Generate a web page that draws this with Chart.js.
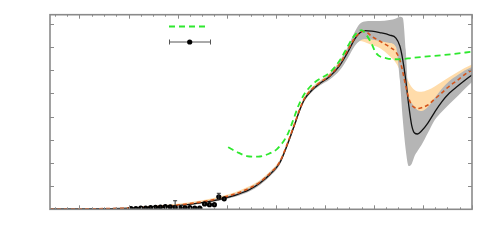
<!DOCTYPE html>
<html>
<head>
<meta charset="utf-8">
<script src="https://cdn.jsdelivr.net/npm/chart.js@4"></script>
<style>
html,body{margin:0;padding:0;background:#fff;}
#wrap{width:500px;height:245px;}
</style>
</head>
<body>
<div id="wrap"><canvas id="c" width="500" height="245"></canvas></div>
<script>
// ---- data ----
const xGrid = [0.40,1.01,1.63,2.03,2.44,2.85,3.25,3.56,3.86,4.17,4.47,4.68,4.88,5.08,5.25,5.39,5.49,5.59,5.74,5.90,6.10,6.31,6.47,6.61,6.71,6.81,6.96,7.12,7.32,7.45,7.53,7.59,7.65,7.71,7.77,7.83,7.89,7.97,8.10,8.24,8.38,8.54,8.71,8.85,9.00];
const blackCurve = [0.013,0.017,0.030,0.047,0.082,0.134,0.216,0.306,0.431,0.603,0.853,1.134,1.500,1.996,2.858,3.677,4.280,4.754,5.142,5.422,5.724,6.220,6.780,7.341,7.599,7.707,7.685,7.621,7.513,7.384,7.039,6.435,5.573,4.496,3.634,3.289,3.246,3.375,3.720,4.194,4.625,5.013,5.315,5.552,5.789];
const grayUpper = [0.013,0.022,0.039,0.060,0.099,0.159,0.250,0.349,0.487,0.668,0.927,1.220,1.586,2.082,2.944,3.763,4.366,4.841,5.228,5.509,5.832,6.392,6.996,7.642,7.987,8.095,8.116,8.116,8.159,8.224,8.302,8.246,6.866,4.841,4.582,4.409,4.280,4.237,4.409,4.797,5.185,5.530,5.789,5.983,6.134];
const grayLower = [0.000,0.009,0.017,0.034,0.060,0.108,0.185,0.263,0.379,0.539,0.780,1.047,1.414,1.909,2.772,3.591,4.194,4.668,5.056,5.336,5.595,6.004,6.522,7.039,7.254,7.341,7.319,7.254,7.168,6.996,5.573,3.849,2.556,1.866,1.953,2.297,2.513,2.772,3.289,3.849,4.194,4.539,4.884,5.185,5.487];
const orangeCurve = [0.013,0.017,0.034,0.056,0.095,0.151,0.246,0.345,0.478,0.659,0.918,1.177,1.543,2.039,2.901,3.720,4.323,4.797,5.185,5.466,5.767,6.284,6.866,7.384,7.599,7.685,7.448,7.254,6.996,6.780,6.435,5.918,5.315,4.797,4.496,4.388,4.345,4.375,4.496,4.754,5.013,5.315,5.573,5.810,6.004];
const orangeUpper = [0.022,0.026,0.052,0.082,0.134,0.203,0.306,0.409,0.552,0.737,1.004,1.263,1.629,2.125,2.987,3.806,4.409,4.884,5.272,5.552,5.875,6.435,6.996,7.599,7.815,7.858,7.728,7.556,7.297,7.082,6.780,6.349,5.832,5.487,5.272,5.142,5.078,5.069,5.142,5.293,5.487,5.703,5.918,6.091,6.241];
const orangeLower = [0.000,0.009,0.017,0.030,0.056,0.099,0.185,0.280,0.405,0.582,0.832,1.091,1.457,1.953,2.815,3.634,4.237,4.711,5.099,5.379,5.659,6.091,6.608,7.082,7.254,7.211,7.082,6.953,6.608,6.306,5.961,5.444,4.884,4.496,4.237,4.151,4.108,4.151,4.237,4.453,4.711,5.013,5.272,5.487,5.703];
const greenX = [4.03,4.20,4.41,4.64,4.85,5.02,5.15,5.25,5.36,5.46,5.56,5.66,5.83,6.10,6.31,6.47,6.61,6.75,6.85,6.95,7.05,7.26,7.53,7.80,8.20,8.61,9.00];
const greenY = [2.672,2.483,2.297,2.267,2.384,2.586,2.901,3.267,3.871,4.453,4.884,5.185,5.530,5.897,6.435,7.039,7.513,7.728,7.513,7.155,6.724,6.509,6.466,6.534,6.608,6.694,6.793];
const pointX = [2.05,2.15,2.25,2.35,2.45,2.55,2.65,2.75,2.85,2.95,3.05,3.15,3.25,3.35,3.45,3.55,3.65,3.75,3.84,3.95];
const pointY = [0.026,0.034,0.047,0.056,0.069,0.086,0.099,0.120,0.108,0.078,0.056,0.065,0.069,0.056,0.056,0.230,0.200,0.200,0.540,0.450];
const pointErr = [0.02,0.02,0.02,0.02,0.02,0.02,0.02,0.02,0.02,0.29,0.02,0.02,0.02,0.02,0.02,0.04,0.04,0.04,0.15,0.04];

// ---- build ----
const pts = (xs, ys) => xs.map((x, i) => ({x: x, y: ys[i]}));
const FRAME = '#8a8a8a';

const framePlugin = {
  id: 'frameTicks',
  afterDatasetsDraw(chart) {
    const ctx = chart.ctx, a = chart.chartArea;
    const xs = chart.scales.x, ys = chart.scales.y;
    ctx.save();
    // error bars for data points
    const meta = chart.getDatasetMeta(7);
    ctx.strokeStyle = '#333';
    ctx.lineWidth = 1;
    pointX.forEach((x, i) => {
      const px = xs.getPixelForValue(x);
      const top = ys.getPixelForValue(pointY[i] + pointErr[i]);
      const bot = ys.getPixelForValue(Math.max(0, pointY[i] - pointErr[i]));
      ctx.beginPath();
      ctx.moveTo(px, top); ctx.lineTo(px, bot);
      if (pointErr[i] > 0.1) { ctx.moveTo(px - 2, top); ctx.lineTo(px + 2, top); }
      ctx.stroke();
    });
    ctx.restore();
  },
  afterDraw(chart) {
    const ctx = chart.ctx, a = chart.chartArea;
    const xs = chart.scales.x, ys = chart.scales.y;
    ctx.save();
    ctx.strokeStyle = FRAME;
    ctx.lineWidth = 1;
    // x ticks
    for (let v = 0.5; v <= 9.001; v += 0.25) {
      const px = Math.round(xs.getPixelForValue(v)) + 0.5;
      const major = Math.abs(v - Math.round(v)) < 1e-6;
      const len = major ? 4 : 2;
      ctx.beginPath();
      ctx.moveTo(px, a.bottom); ctx.lineTo(px, a.bottom - len);
      ctx.moveTo(px, a.top); ctx.lineTo(px, a.top + len);
      ctx.stroke();
    }
    // y ticks
    for (let v = 1; v <= 8; v += 1) {
      const py = Math.round(ys.getPixelForValue(v)) + 0.5;
      ctx.beginPath();
      ctx.moveTo(a.left, py); ctx.lineTo(a.left + 4, py);
      ctx.moveTo(a.right, py); ctx.lineTo(a.right - 4, py);
      ctx.stroke();
    }
    // frame
    ctx.lineWidth = 1.6;
    ctx.strokeRect(a.left, a.top, a.right - a.left, a.bottom - a.top);
    // legend
    ctx.strokeStyle = '#2ee82e';
    ctx.lineWidth = 2;
    ctx.setLineDash([6, 4]);
    ctx.beginPath(); ctx.moveTo(169, 26.5); ctx.lineTo(205, 26.5); ctx.stroke();
    ctx.setLineDash([]);
    ctx.strokeStyle = '#555';
    ctx.lineWidth = 1;
    ctx.beginPath();
    ctx.moveTo(169.5, 42); ctx.lineTo(210.5, 42);
    ctx.moveTo(169.5, 39.5); ctx.lineTo(169.5, 44.5);
    ctx.moveTo(210.5, 39.5); ctx.lineTo(210.5, 44.5);
    ctx.stroke();
    ctx.fillStyle = '#000';
    ctx.beginPath(); ctx.arc(189.7, 42, 2.6, 0, Math.PI * 2); ctx.fill();
    ctx.restore();
  }
};

const lineBase = {showLine: true, pointRadius: 0, cubicInterpolationMode: 'monotone'};

new Chart(document.getElementById('c'), {
  type: 'scatter',
  data: {
    datasets: [
      Object.assign({}, lineBase, {data: pts(xGrid, orangeUpper), borderWidth: 0, borderColor: 'rgba(0,0,0,0)', backgroundColor: '#ffdcaa', fill: 1, order: 10}),
      Object.assign({}, lineBase, {data: pts(xGrid, orangeLower), borderWidth: 0, borderColor: 'rgba(0,0,0,0)', fill: false, order: 9}),
      Object.assign({}, lineBase, {data: pts(xGrid, grayUpper), borderWidth: 0, borderColor: 'rgba(0,0,0,0)', backgroundColor: '#b5b5b5', fill: 3, order: 8}),
      Object.assign({}, lineBase, {data: pts(xGrid, grayLower), borderWidth: 0, borderColor: 'rgba(0,0,0,0)', fill: false, order: 7}),
      Object.assign({}, lineBase, {data: pts(xGrid, blackCurve), borderWidth: 1.3, borderColor: '#111', fill: false, order: 5}),
      Object.assign({}, lineBase, {data: pts(xGrid, orangeCurve), borderWidth: 1.6, borderColor: '#d4541a', borderDash: [4, 3], fill: false, order: 4}),
      Object.assign({}, lineBase, {data: pts(greenX, greenY), borderWidth: 1.8, borderColor: '#2ee82e', borderDash: [6, 4], fill: false, order: 3}),
      {data: pts(pointX, pointY), showLine: false, pointRadius: 2.6, pointBackgroundColor: '#000', pointBorderColor: '#000', pointBorderWidth: 0, order: 1}
    ]
  },
  options: {
    responsive: false,
    devicePixelRatio: 1,
    animation: false,
    layout: {padding: {left: 50, right: 28, top: 14.7, bottom: 35.7}},
    plugins: {legend: {display: false}, tooltip: {enabled: false}},
    scales: {
      x: {type: 'linear', display: false, min: 0.4, max: 9},
      y: {type: 'linear', display: false, min: 0, max: 8.39}
    }
  },
  plugins: [framePlugin]
});
</script>
</body>
</html>
